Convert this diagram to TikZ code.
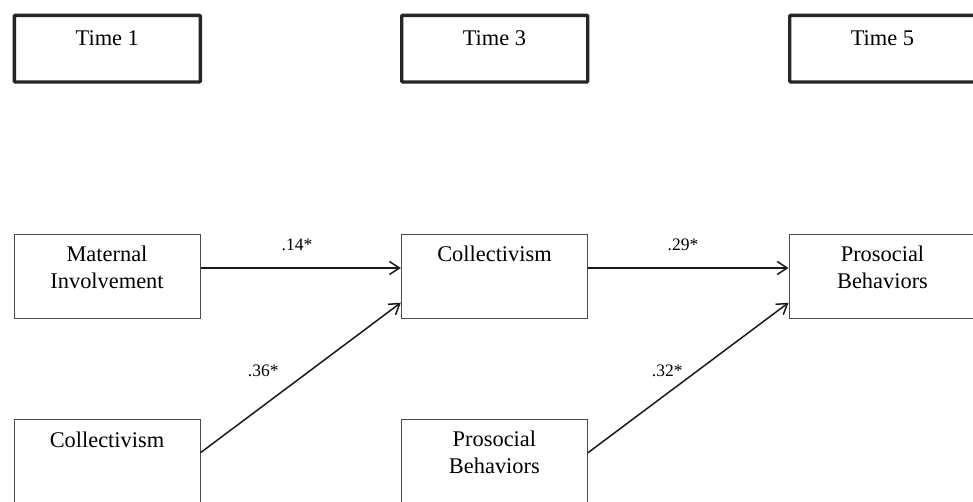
\documentclass[tikz,border=0pt]{standalone}
\usepackage{fontspec}
\setmainfont{Liberation Serif}
\usetikzlibrary{arrows.meta}
\begin{document}
\begin{tikzpicture}[x=1pt,y=-1pt,
  timebox/.style={draw=black!85, line width=3.4pt, rounded corners=1pt, minimum width=186pt, minimum height=66.7pt, inner sep=0pt},
  varbox/.style={draw=black!70, line width=1pt, minimum width=186pt, minimum height=84pt, inner sep=0pt},
  vtext/.style={font=\fontsize{22.4}{26.7}\selectfont, align=center, anchor=base, inner sep=0pt},
  coef/.style={font=\fontsize{17.5}{20}\selectfont, anchor=base, inner sep=0pt},
  arrowline/.style={draw=black!90, line width=1.5pt, -{Straight Barb[length=10pt,width=13pt,line width=1.5pt]}}
]
\useasboundingbox (0,0) rectangle (973,501);
\clip (0,0) rectangle (973,501);
% time headers
\node[timebox] (t1) at (107.3,48.65) {};
\node[timebox] (t3) at (494.7,48.65) {};
\node[timebox] (t5) at (882.7,48.65) {};
\node[vtext] (t1l) at (107.3,45) {Time 1};
\node[vtext] (t3l) at (494.4,45) {Time 3};
\node[vtext] (t5l) at (882.4,45) {Time 5};
% variable boxes
\node[varbox] (mi) at (107,276) {};
\node[varbox] (c3) at (494.3,276) {};
\node[varbox] (p5) at (882,276) {};
\node[varbox] (c1) at (107,461) {};
\node[varbox] (p3) at (494.5,461) {};
% multi-line nodes are anchored at the baseline of their last line
\node[vtext] (mil) at (107,288.4) {Maternal\\Involvement};
\node[vtext] (c3l) at (494.5,261.5) {Collectivism};
\node[vtext] (p5l) at (882.5,288.4) {Prosocial\\Behaviors};
\node[vtext] (c1l) at (107,447.3) {Collectivism};
\node[vtext] (p3l) at (494.4,473.3) {Prosocial\\Behaviors};
% paths
\draw[arrowline] ([yshift=8pt]mi.east) -- ([yshift=8pt]c3.west);
\draw[arrowline] ([yshift=8pt]c3.east) -- ([yshift=8pt]p5.west);
\draw[arrowline] ([yshift=8.3pt]c1.east) -- ([yshift=-26.7pt]c3.west);
\draw[arrowline] ([yshift=8.3pt]p3.east) -- ([yshift=-26.7pt]p5.west);
% coefficients
\node[coef] (k14) at (297,250.7) {.14*};
\node[coef] (k29) at (683,250.7) {.29*};
\node[coef] (k36) at (263.3,376) {.36*};
\node[coef] (k32) at (667.3,376) {.32*};
\end{tikzpicture}
\end{document}
